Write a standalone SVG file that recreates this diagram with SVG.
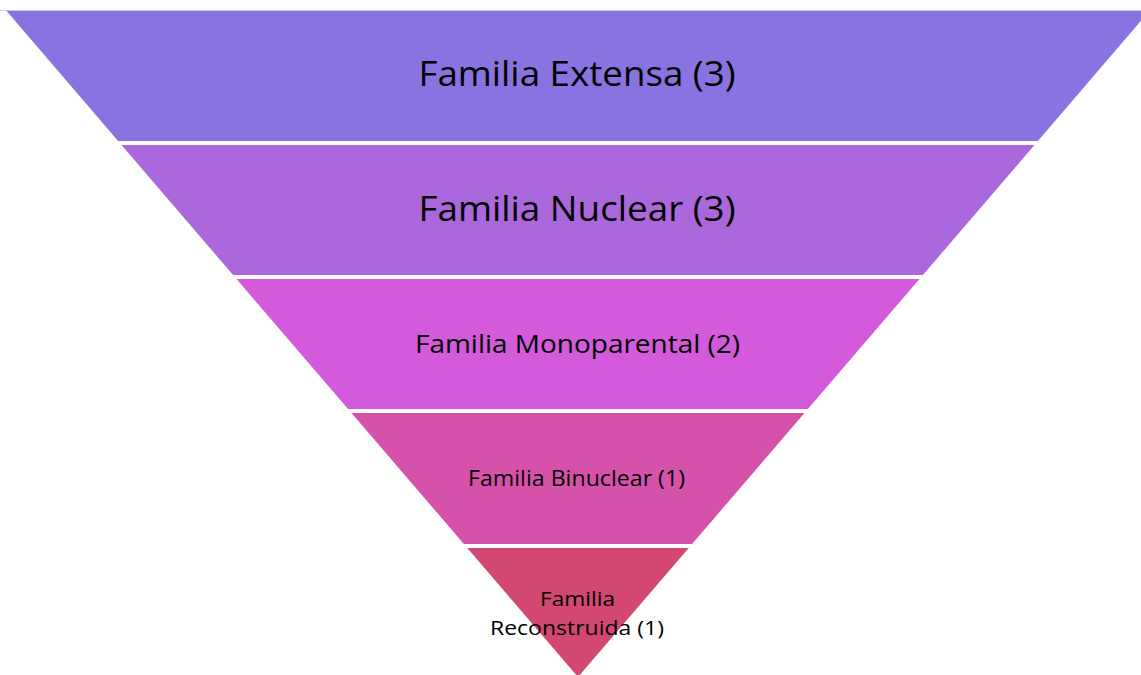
<svg xmlns="http://www.w3.org/2000/svg" width="1141" height="675" viewBox="0 0 1141 675">
  <style>
    .lbl { font-family: "Open Sans", "Liberation Sans", sans-serif; fill: #000; text-anchor: middle; }
  </style>
  <rect width="1141" height="675" fill="#fff"/>
  <!-- faint rule along the top edge -->
  <line x1="0" y1="10.5" x2="1141" y2="10.5" stroke="#c9c1ee" stroke-width="1"/>

  <g id="band-extensa">
    <polygon points="6.6,11 1149.4,11 1037.9,141 118.1,141" fill="#8973e1"/>
    <text class="lbl" x="577" y="86" font-size="34" textLength="317" lengthAdjust="spacingAndGlyphs">Familia Extensa (3)</text>
  </g>
  <g id="band-nuclear">
    <polygon points="121.5,145 1034.5,145 922.9,275 233.1,275" fill="#aa68dc"/>
    <text class="lbl" x="577" y="221" font-size="34" textLength="317" lengthAdjust="spacingAndGlyphs">Familia Nuclear (3)</text>
  </g>
  <g id="band-monoparental">
    <polygon points="236.5,279 919.5,279 807.9,409 348.1,409" fill="#d35bdb"/>
    <text class="lbl" x="577.5" y="353" font-size="25" textLength="325" lengthAdjust="spacingAndGlyphs">Familia Monoparental (2)</text>
  </g>
  <g id="band-binuclear">
    <polygon points="351.5,413 804.5,413 692.1,544 463.9,544" fill="#d652aa"/>
    <text class="lbl" x="576.5" y="486" font-size="21" textLength="217" lengthAdjust="spacingAndGlyphs">Familia Binuclear (1)</text>
  </g>
  <g id="band-reconstruida">
    <polygon points="467.3,548 688.7,548 578,677" fill="#d34870"/>
    <text class="lbl" x="577.5" y="606" font-size="20" textLength="75" lengthAdjust="spacingAndGlyphs">Familia</text>
    <text class="lbl" x="577" y="635" font-size="20" textLength="174" lengthAdjust="spacingAndGlyphs">Reconstruida (1)</text>
  </g>

  <g id="connectors"/>
</svg>
